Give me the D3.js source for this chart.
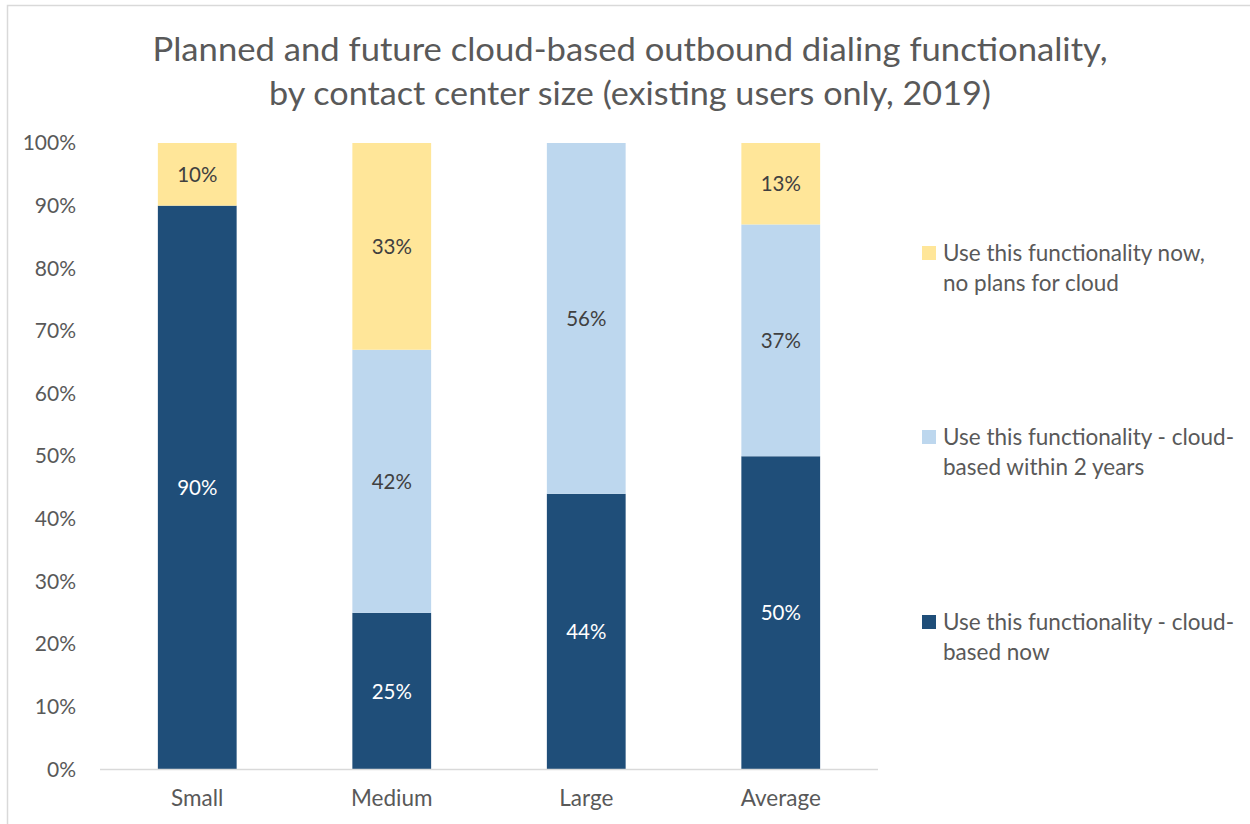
<!DOCTYPE html>
<html>
<head>
<meta charset="utf-8">
<script src="https://cdn.jsdelivr.net/npm/d3@7"></script>
<style>
  html, body { margin: 0; padding: 0; background: #fff; }
  svg { display: block; }
  text { font-family: Lato, "Open Sans", sans-serif; }
</style>
</head>
<body>
<svg id="chart" width="1250" height="824"></svg>
<script>
// Contact center sizes on the x axis
const categories = ["Small", "Medium", "Large", "Average"];

// Percentages per series (bottom to top of each stack)
const cloudNow      = [90, 25, 44, 50];
const cloudWithin2  = [0, 42, 56, 37];
const noCloudPlans  = [10, 33, 0, 13];

const seriesNames = [
  "Use this functionality - cloud-based now",
  "Use this functionality - cloud-based within 2 years",
  "Use this functionality now, no plans for cloud"
];
const legendLines = [
  ["Use this functionality - cloud-", "based now"],
  ["Use this functionality - cloud-", "based within 2 years"],
  ["Use this functionality now,", "no plans for cloud"]
];
const seriesColors = ["#1F4E79", "#BDD7EE", "#FFE699"];
const labelColors  = ["#FFFFFF", "#404040", "#404040"];

const yTicks = [0, 10, 20, 30, 40, 50, 60, 70, 80, 90, 100];
const titleLines = [
  "Planned and future cloud-based outbound dialing functionality,",
  "by contact center size (existing users only, 2019)"
];

const svg = d3.select("#chart");
const W = 1250, H = 824;
const plot = { left: 100, right: 878, top: 143, bottom: 769.5 };

// chart frame
svg.append("rect")
  .attr("x", 7.5).attr("y", 5.5)
  .attr("width", W).attr("height", H)
  .attr("fill", "#fff").attr("stroke", "#D9D9D9").attr("stroke-width", 1.5);

// title
svg.append("g").selectAll("text").data(titleLines).join("text")
  .attr("x", 630)
  .attr("y", (d, i) => 61 + i * 44)
  .attr("text-anchor", "middle")
  .attr("font-size", 32)
  .attr("fill", "#595959")
  .attr("textLength", (d, i) => i === 0 ? 955 : 722)
  .attr("lengthAdjust", "spacingAndGlyphs")
  .text(d => d);

const x = d3.scaleBand()
  .domain(categories)
  .range([plot.left, plot.right])
  .paddingInner(0.595)
  .paddingOuter(0.2975);

const y = d3.scaleLinear()
  .domain([0, 100])
  .range([plot.bottom, plot.top]);

// stacked data
const rows = categories.map((c, i) => ({
  cat: c,
  s0: cloudNow[i],
  s1: cloudWithin2[i],
  s2: noCloudPlans[i]
}));
const stack = d3.stack().keys(["s0", "s1", "s2"]);
const layers = stack(rows);

const bars = svg.append("g");
layers.forEach((layer, li) => {
  const g = bars.append("g");
  g.selectAll("rect").data(layer.filter(d => d[1] - d[0] > 0)).join("rect")
    .attr("x", d => x(d.data.cat))
    .attr("width", x.bandwidth())
    .attr("y", d => y(d[1]))
    .attr("height", d => y(d[0]) - y(d[1]))
    .attr("fill", seriesColors[li]);
  g.selectAll("text").data(layer.filter(d => d[1] - d[0] > 0)).join("text")
    .attr("x", d => x(d.data.cat) + x.bandwidth() / 2)
    .attr("y", d => (y(d[0]) + y(d[1])) / 2)
    .attr("dy", "0.36em")
    .attr("text-anchor", "middle")
    .attr("font-size", 20.5)
    .attr("fill", labelColors[li])
    .text(d => (d[1] - d[0]) + "%");
});

// baseline
svg.append("line")
  .attr("x1", plot.left).attr("x2", plot.right)
  .attr("y1", y(0)).attr("y2", y(0))
  .attr("stroke", "#D9D9D9").attr("stroke-width", 1.5);

// y axis labels
const yAxis = d3.axisLeft(y).tickValues(yTicks).tickFormat(d => d + "%").tickSize(0).tickPadding(0);
const yg = svg.append("g").attr("transform", `translate(76,0)`).call(yAxis);
yg.select(".domain").remove();
yg.selectAll("text")
  .attr("font-size", 21)
  .attr("fill", "#595959")
  .attr("font-family", "Lato, 'Open Sans', sans-serif");

// x axis labels
const xAxis = d3.axisBottom(x).tickSize(0).tickPadding(0);
const xg = svg.append("g").attr("transform", `translate(0,${plot.bottom + 21})`).call(xAxis);
xg.select(".domain").remove();
xg.selectAll("text")
  .attr("font-size", 22.5)
  .attr("fill", "#595959")
  .attr("font-family", "Lato, 'Open Sans', sans-serif");

// legend (top entry is the top of the stack)
const legendY = [622, 437, 253];
const lg = svg.append("g");
seriesNames.forEach((name, i) => {
  const g = lg.append("g").attr("transform", `translate(922,${legendY[i]})`);
  g.append("rect").attr("x", 0).attr("y", -7).attr("width", 14).attr("height", 14)
    .attr("fill", seriesColors[i]);
  g.selectAll("text").data(legendLines[i]).join("text")
    .attr("x", 21)
    .attr("y", (d, j) => j * 30)
    .attr("dy", "0.36em")
    .attr("font-size", 22.5)
    .attr("fill", "#595959")
    .text(d => d);
});
</script>
</body>
</html>
